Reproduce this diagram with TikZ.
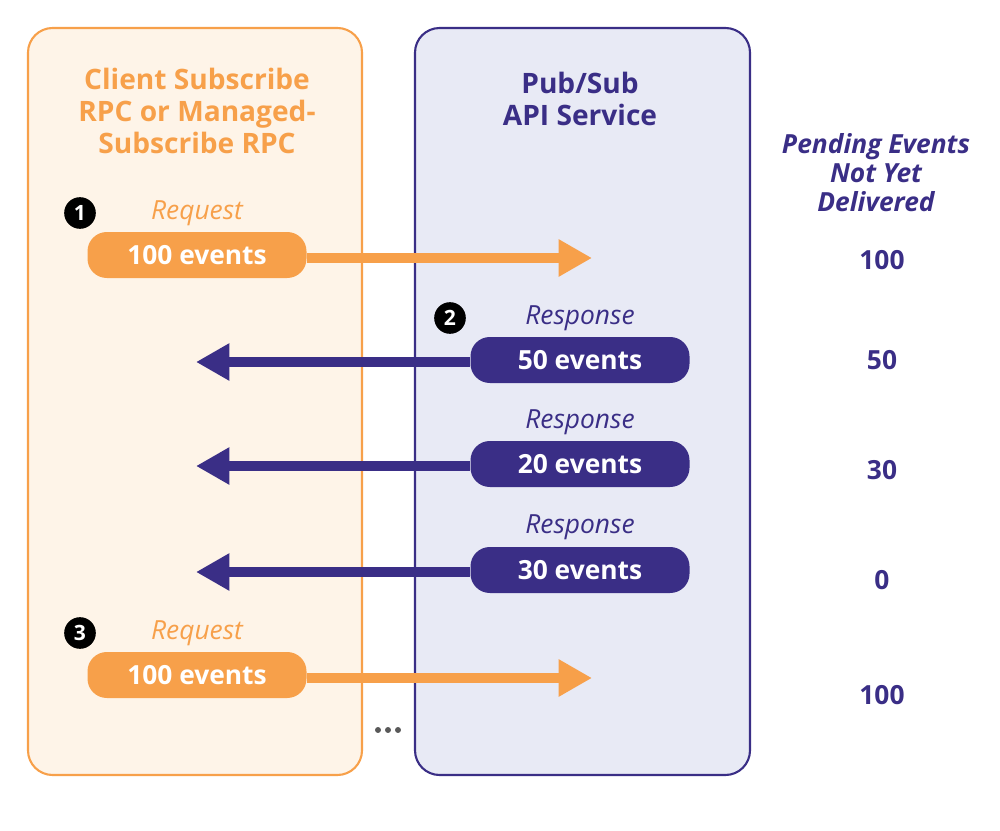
\documentclass[tikz,border=0pt]{standalone}
\usepackage{fontspec}
\setmainfont{Open Sans}
\usetikzlibrary{arrows.meta, positioning, calc}
\definecolor{sforange}{HTML}{F7A04A}
\definecolor{sfpaleorange}{HTML}{FEF4E8}
\definecolor{sfindigo}{HTML}{3A2E86}
\definecolor{sfpaleindigo}{HTML}{E8EAF5}
\newlength{\unitpx}\setlength{\unitpx}{0.02cm}
\tikzset{
    panel/.style={rounded corners=14pt, line width=1.2pt},
    pill/.style={rounded corners=11pt, minimum width=219\unitpx, minimum height=46\unitpx, font=\fontsize{15}{18}\selectfont\bfseries, text=white},
    label_txt/.style={font=\fontsize{15}{18}\selectfont\itshape},
    stepnum/.style={circle, fill=black, text=white, inner sep=0pt, minimum size=18pt, font=\fontsize{12}{12}\selectfont\bfseries},
    flow/.style={line width=5.7pt, -{Triangle[length=19pt, width=20pt]}},
    count/.style={font=\fontsize{15}{18}\selectfont\bfseries, text=sfindigo}
}
\begin{document}
\begin{tikzpicture}[x=0.02cm, y=-0.02cm]
    \useasboundingbox (0,0) rectangle (1000,831);
    % panels
    \draw[panel, draw=sforange, fill=sfpaleorange] (28,28) rectangle (362,775);
    \draw[panel, draw=sfindigo, fill=sfpaleindigo] (415,28) rectangle (750,775);
    % titles
    \node[text=sforange, align=center, font=\fontsize{16}{18}\selectfont\bfseries] (clienttitle) at (197,111) {Client Subscribe\\RPC or Managed-\\Subscribe RPC};
    \node[text=sfindigo, align=center, font=\fontsize{16}{18}\selectfont\bfseries] (apititle) at (580,99) {Pub/Sub\\API Service};
    \node[text=sfindigo, align=center, font=\fontsize{15}{16.5}\selectfont\bfseries\itshape] (pendtitle) at (876,173) {Pending Events\\Not Yet\\Delivered};
    % requests and responses
    \node[label_txt, text=sforange] (req1) at (197,213) {Request};
    \node[stepnum] (s1) at (80,213) {1};
    \node[pill, fill=sforange] (p1) at (197,255) {100 events};
    \coordinate (e1) at (592,258);
    \draw[flow, sforange] (p1.east |- e1) -- (e1);
    %
    \node[label_txt, text=sfindigo] (resp1) at (580,318) {Response};
    \node[stepnum] (s2) at (450,318) {2};
    \node[pill, fill=sfindigo] (p2) at (580,360) {50 events};
    \coordinate (e2) at (196,362);
    \draw[flow, sfindigo] (p2.west |- e2) -- (e2);
    %
    \node[label_txt, text=sfindigo] (resp2) at (580,422) {Response};
    \node[pill, fill=sfindigo] (p3) at (580,464) {20 events};
    \coordinate (e3) at (196,466);
    \draw[flow, sfindigo] (p3.west |- e3) -- (e3);
    %
    \node[label_txt, text=sfindigo] (resp3) at (580,527) {Response};
    \node[pill, fill=sfindigo] (p4) at (580,570) {30 events};
    \coordinate (e4) at (196,572);
    \draw[flow, sfindigo] (p4.west |- e4) -- (e4);
    %
    \node[label_txt, text=sforange] (req2) at (197,633) {Request};
    \node[stepnum] (s3) at (80,633) {3};
    \node[pill, fill=sforange] (p5) at (197,675) {100 events};
    \coordinate (e5) at (592,678);
    \draw[flow, sforange] (p5.east |- e5) -- (e5);
    % pending counts
    \node[count] (c1) at (882,260) {100};
    \node[count] (c2) at (882,360) {50};
    \node[count] (c3) at (882,470) {30};
    \node[count] (c4) at (882,580) {0};
    \node[count] (c5) at (882,695) {100};
    % more
    \foreach \dx in {378,388,398} \fill[gray!70!black] (\dx,730) circle (1.7pt);
\end{tikzpicture}
\end{document}
